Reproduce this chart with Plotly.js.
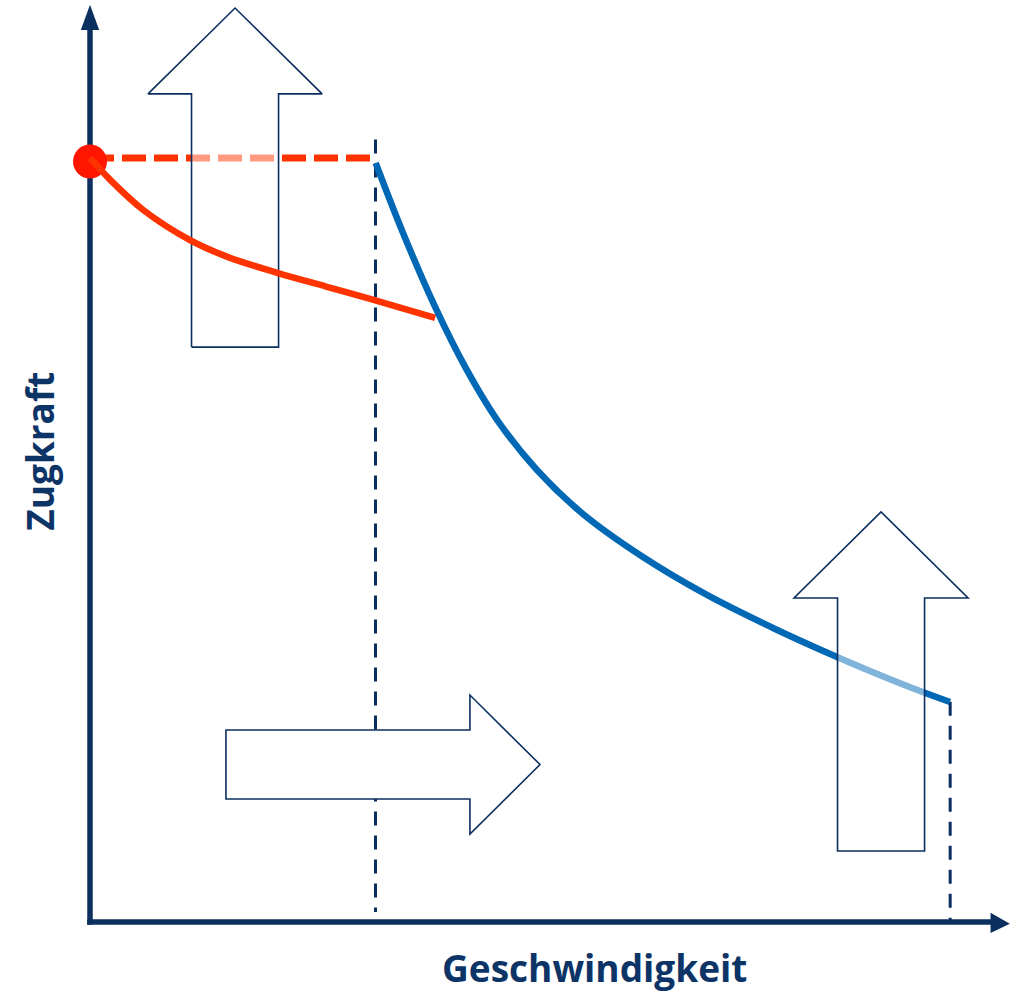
<!DOCTYPE html>
<html>
<head>
<meta charset="utf-8">
<script src="https://cdn.plot.ly/plotly-3.0.1.min.js"></script>
<style>html,body{margin:0;padding:0;background:#fff;}#chart{width:1018px;height:993px;}</style>
</head>
<body>
<div id="chart"></div>
<script>
// Zugkraft / Geschwindigkeit (relative units 0..100)
const redCurveX = [0, 2.2, 5.8, 10.9, 14.9, 20.5, 25.8, 30.8, 37.6];
const redCurveY = [83.6, 81.2, 77.9, 74.6, 72.8, 71.0, 69.5, 68.1, 66.1];
const blueCurveX = [31.12, 34.10, 37.58, 40.85, 44.44, 48.69, 53.70, 60.24, 67.21, 74.40, 81.37, 89.00, 93.68];
const blueCurveY = [83.04, 75.38, 67.33, 60.77, 54.81, 49.45, 44.64, 39.93, 35.78, 32.17, 29.00, 25.82, 24.07];
const maxForce = 83.6;        // Anfahrzugkraft
const cornerSpeed = 31.1;     // Übergangsgeschwindigkeit
const maxSpeed = 93.7;        // Höchstgeschwindigkeit
const cornerLineTop = 85.6;
const endForce = 24.1;
const xTitle = 'Geschwindigkeit';
const yTitle = 'Zugkraft';

const NAVY = '#0b2f5e';
const RED = '#ff3300';
const BLUE = '#0068b4';

function arrowUp(cx, tipY, baseY, bottomY, headHalf, shaftHalf) {
  return {
    x: [cx - shaftHalf, cx - shaftHalf, cx - headHalf, cx, cx + headHalf, cx + shaftHalf, cx + shaftHalf, cx - shaftHalf],
    y: [bottomY, baseY, baseY, tipY, baseY, baseY, bottomY, bottomY]
  };
}
function arrowRight(left, headX, tipX, cy, shaftHalf, headHalf) {
  return {
    x: [left, headX, headX, tipX, headX, headX, left, left],
    y: [cy + shaftHalf, cy + shaftHalf, cy + headHalf, cy, cy - headHalf, cy - shaftHalf, cy - shaftHalf, cy + shaftHalf]
  };
}
function toPath(a) {
  return 'M ' + a.x.map((v, i) => v + ' ' + a.y[i]).join(' L ') + ' Z';
}
const a1 = arrowUp(15.8, 100, 90.6, 62.9, 9.48, 4.74);
const a2 = arrowUp(86.17, 44.86, 35.45, 7.77, 9.48, 4.74);
const a3 = arrowRight(14.81, 41.39, 49.02, 17.23, 3.77, 7.6);

const traces = [
  {type: 'scatter', mode: 'lines', x: [0, cornerSpeed], y: [maxForce, maxForce],
   line: {color: RED, width: 7, dash: '24px,8px'}, showlegend: false},
  {type: 'scatter', mode: 'lines', x: [cornerSpeed, cornerSpeed], y: [cornerLineTop, 1.1],
   line: {color: NAVY, width: 3, dash: '14px,10px'}, showlegend: false},
  {type: 'scatter', mode: 'lines', x: [maxSpeed, maxSpeed], y: [endForce, 0],
   line: {color: NAVY, width: 3, dash: '14px,10px'}, showlegend: false},
  {type: 'scatter', mode: 'lines', x: a1.x, y: a1.y, fill: 'toself', fillcolor: 'rgba(255,255,255,0.5)',
   line: {color: NAVY, width: 1.6}, showlegend: false},
  {type: 'scatter', mode: 'markers', x: [0], y: [83.2],
   marker: {color: '#ff1500', size: 34}, showlegend: false},
  {type: 'scatter', mode: 'lines', x: redCurveX, y: redCurveY,
   line: {color: RED, width: 6.5, shape: 'spline'}, showlegend: false},
  {type: 'scatter', mode: 'lines', x: blueCurveX, y: blueCurveY,
   line: {color: BLUE, width: 6.5, shape: 'spline'}, showlegend: false}
];

const layout = {
  width: 1018, height: 993,
  margin: {l: 0, r: 0, t: 0, b: 0},
  paper_bgcolor: '#fff', plot_bgcolor: '#fff',
  xaxis: {range: [-9.804, 101.089], visible: false, fixedrange: true},
  yaxis: {range: [-7.768, 100.875], visible: false, fixedrange: true},
  showlegend: false,
  shapes: [
    {type: 'line', layer: 'below', x0: 0, x1: 0, y0: -0.3, y1: 98.5, line: {color: NAVY, width: 5.5}},
    {type: 'line', layer: 'below', x0: -0.3, x1: 98.4, y0: 0, y1: 0, line: {color: NAVY, width: 5.5}},
    {type: 'path', layer: 'below', path: 'M -1.0 97.6 L 0 100.35 L 1.0 97.6 Z', fillcolor: NAVY, line: {width: 0}},
    {type: 'path', layer: 'below', path: 'M 98.1 1.0 L 100.2 -0.2 L 98.1 -1.2 Z', fillcolor: NAVY, line: {width: 0}},
    {type: 'path', layer: 'above', path: toPath(a2), fillcolor: 'rgba(255,255,255,0.5)', line: {color: NAVY, width: 1.6}},
    {type: 'path', layer: 'above', path: toPath(a3), fillcolor: '#ffffff', opacity: 1, line: {color: NAVY, width: 1.6}}
  ],
  annotations: [
    {text: '<b>' + xTitle + '</b>', x: 55.0, y: -5.0, xref: 'x', yref: 'y', showarrow: false,
     font: {family: 'Open Sans', size: 37, color: '#0d3466'}},
    {text: '<b>' + yTitle + '</b>', x: -5.5, y: 51.5, xref: 'x', yref: 'y', showarrow: false, textangle: -90,
     font: {family: 'Open Sans', size: 37, color: '#0d3466'}}
  ]
};

Plotly.newPlot('chart', traces, layout, {displayModeBar: false, staticPlot: true});
</script>
</body>
</html>
